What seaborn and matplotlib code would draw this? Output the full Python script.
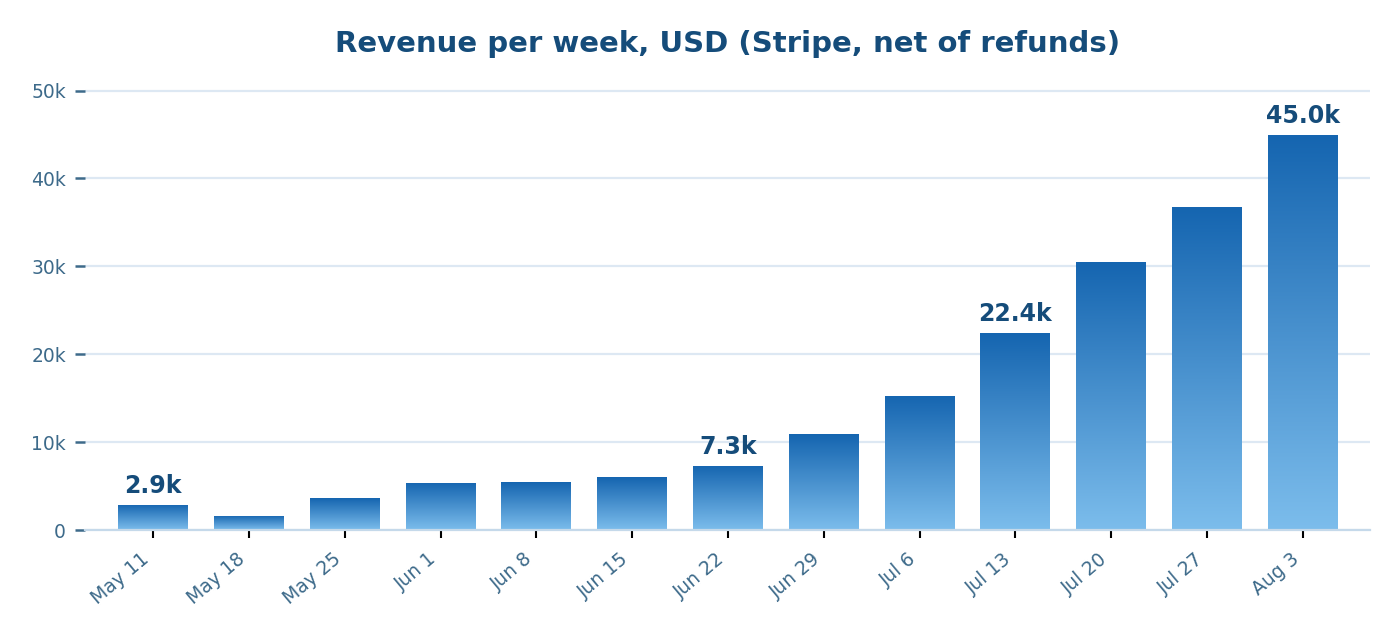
import matplotlib
matplotlib.use("Agg")
import matplotlib.pyplot as plt
import matplotlib.colors as mcolors
import seaborn as sns
import numpy as np
import pandas as pd

weeks = ["May 11", "May 18", "May 25", "Jun 1", "Jun 8", "Jun 15", "Jun 22",
         "Jun 29", "Jul 6", "Jul 13", "Jul 20", "Jul 27", "Aug 3"]
revenue = [2900, 1600, 3600, 5350, 5450, 6000, 7300,
           10900, 15300, 22400, 30500, 36800, 45000]
labeled = ["May 11", "Jun 22", "Jul 13", "Aug 3"]

df = pd.DataFrame({"week": weeks, "revenue": revenue})

sns.set_style("white")
plt.rcParams["font.family"] = ["DejaVu Sans"]

fig = plt.figure(figsize=(14, 6.4), dpi=100)
ax = fig.add_axes([85 / 1400, 110 / 640, 1285 / 1400, 457 / 640])

sns.barplot(data=df, x="week", y="revenue", ax=ax, width=0.73,
            color="#1565b0", saturation=1)

# swap flat bar fill for a vertical gradient, dark at top
grad = mcolors.LinearSegmentedColormap.from_list("bar", ["#7cbdec", "#1565b0"])
g = np.linspace(0, 1, 256).reshape(-1, 1)
for patch in ax.patches:
    x0, y0 = patch.get_x(), patch.get_y()
    w, h = patch.get_width(), patch.get_height()
    im = ax.imshow(g, cmap=grad, origin="lower", aspect="auto",
                   extent=[x0, x0 + w, y0, y0 + h], zorder=2)
    im.set_clip_path(patch)
    patch.set_facecolor("none")
    patch.set_edgecolor("none")

for i, (wk, v) in enumerate(zip(weeks, revenue)):
    if wk in labeled:
        ax.annotate(f"{v / 1000:.1f}k", (i, v), xytext=(0, 5),
                    textcoords="offset points", ha="center", va="bottom",
                    fontsize=17, fontweight="bold", color="#154c7a")

ax.set_xlim(-0.71, 12.70)
ax.set_ylim(0, 52000)
ax.set_yticks([0, 10000, 20000, 30000, 40000, 50000])
ax.set_yticklabels(["0", "10k", "20k", "30k", "40k", "50k"])
ax.yaxis.grid(True, color="#dde8f3", linewidth=1.6)
ax.set_axisbelow(True)

for s in ["top", "right", "left"]:
    ax.spines[s].set_visible(False)
ax.spines["bottom"].set_color("#c5d9ea")
ax.spines["bottom"].set_linewidth(1.6)
ax.spines["bottom"].set_zorder(3)

ax.tick_params(axis="y", left=True, colors="#3d6a8a", labelsize=13.5,
               length=7.2, width=1.8, pad=6.5)
ax.tick_params(axis="x", bottom=True, colors="black", labelcolor="#3d6a8a",
               labelsize=13.5, length=6, width=1.5, pad=8)
plt.setp(ax.get_xticklabels(), rotation=40, ha="right")

ax.set_xlabel("")
ax.set_ylabel("")
ax.set_title("Revenue per week, USD (Stripe, net of refunds)", fontsize=21,
             fontweight="bold", color="#154c7a", pad=15)

fig.savefig("out.png", dpi=100)
